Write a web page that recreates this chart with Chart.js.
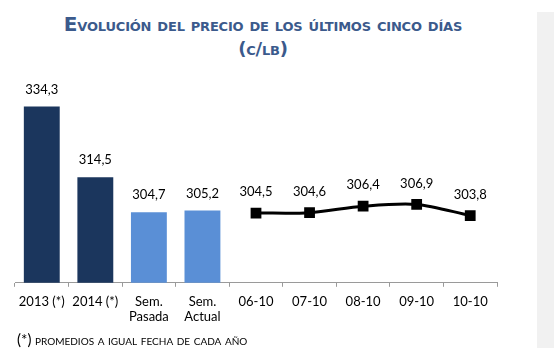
<!DOCTYPE html>
<html>
<head>
<meta charset="utf-8">
<script src="https://cdn.jsdelivr.net/npm/chart.js@4/dist/chart.umd.min.js"></script>
<style>
  body { margin: 0; background: #fff; width: 557px; height: 361px; overflow: hidden; position: relative; font-family: "Lato", "Open Sans", sans-serif; }
  #title { position: absolute; left: 0; top: 12px; width: 526px; text-align: center; color: #3b5a8c;
    font-family: "DejaVu Sans", Verdana, sans-serif; font-weight: bold; font-size: 18px; font-variant: small-caps; line-height: 24px; letter-spacing: -0.2px; }
  #title .big { font-size: 20px; }
  #panel { position: absolute; left: 537px; top: 12px; width: 17px; height: 336px; background: #f1f1f1; }
  #note { position: absolute; left: 17px; top: 330px; font-size: 14px; font-variant: small-caps; color: #000; }
  #note .ast { font-size: 15px; font-variant: normal; }
  #wrap { position: absolute; left: 0; top: 0; width: 557px; height: 361px; }
</style>
</head>
<body>
<div id="panel"></div>
<div id="title"><span class="big">E</span>volución del precio de los últimos cinco días<br>(c/lb)</div>
<div id="wrap"><canvas id="chart"></canvas></div>
<div id="note"><span class="ast">(*)</span> promedios a igual fecha de cada año</div>
<script>
// Datos del gráfico
const categories = [
  "2013 (*)", "2014 (*)", ["Sem.", "Pasada"], ["Sem.", "Actual"],
  "06-10", "07-10", "08-10", "09-10", "10-10",
];
const barValues = [334.3, 314.5, 304.7, 305.2, null, null, null, null, null];
const lineValues = [null, null, null, null, 304.5, 304.6, 306.4, 306.9, 303.8];
const barColors = ["#1b365d", "#1b365d", "#5a8fd6", "#5a8fd6"];

// Etiquetas de valores con coma decimal
const valueLabels = {
  id: "valueLabels",
  afterDatasetsDraw(chart) {
    const ctx = chart.ctx;
    ctx.save();
    ctx.font = "13px Lato, 'Open Sans', sans-serif";
    ctx.fillStyle = "#000";
    ctx.textAlign = "center";
    ctx.textBaseline = "middle";
    chart.data.datasets.forEach((ds, i) => {
      const meta = chart.getDatasetMeta(i);
      meta.data.forEach((el, j) => {
        const v = ds.data[j];
        if (v === null) return;
        const off = ds.type === "line" ? 21 : 17;
        ctx.fillText(v.toFixed(1).replace(".", ","), el.x, el.y - off);
      });
    });
    ctx.restore();
  },
};

const ctx = document.getElementById("chart").getContext("2d");
new Chart(ctx, {
  data: {
    labels: categories,
    datasets: [
      {
        type: "line",
        data: lineValues,
        borderColor: "#000",
        borderWidth: 3,
        pointStyle: "rect",
        pointRadius: 5.5,
        pointBackgroundColor: "#000",
        pointBorderColor: "#000",
        tension: 0.3,
      },
      {
        type: "bar",
        data: barValues,
        backgroundColor: barColors,
        categoryPercentage: 1,
        barPercentage: 0.67,
      },
    ],
  },
  options: {
    responsive: true,
    maintainAspectRatio: false,
    animation: false,
    layout: { padding: { left: 15, right: 60, top: 86, bottom: 29 } },
    plugins: { legend: { display: false }, tooltip: { enabled: false } },
    scales: {
      x: {
        offset: true,
        grid: { offset: true, drawOnChartArea: false, drawTicks: true, tickLength: 4, color: "#9a9a9a" },
        border: { display: true, color: "#9a9a9a", width: 1 },
        ticks: { color: "#000", font: { size: 13, family: "Lato, 'Open Sans', sans-serif" }, padding: 7, maxRotation: 0, autoSkip: false },
      },
      y: {
        display: false,
        min: 285,
        max: 340,
      },
    },
  },
  plugins: [valueLabels],
});
</script>
</body>
</html>
